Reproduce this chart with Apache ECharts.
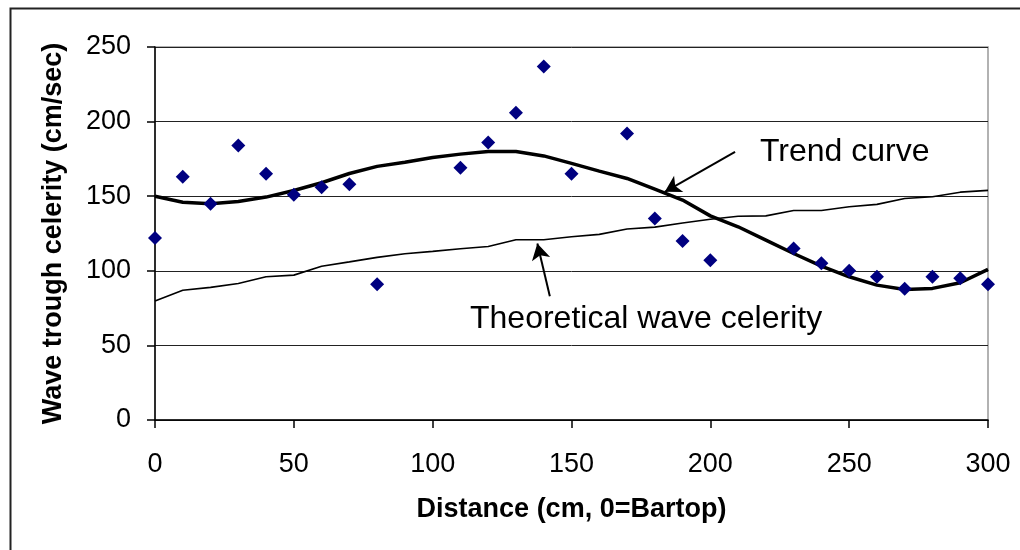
<!DOCTYPE html>
<html>
<head>
<meta charset="utf-8">
<script src="https://cdn.jsdelivr.net/npm/echarts@6/dist/echarts.min.js"></script>
<style>html,body{margin:0;padding:0;background:#fff}#c{width:1020px;height:550px}</style>
</head>
<body>
<div id="c"></div>
<script>
// Observed wave trough celerity (scatter)
const obsDistance = [0,10,20,30,40,50,60,70,80,110,120,130,140,150,170,180,190,200,230,240,250,260,270,280,290,300];
const obsCelerity = [122,163,145,184,165,151,156,158,91,169,186,206,237,165,192,135,120,107,115,105,100,96,88,96,95,91];
// Curves sampled every 10 cm
const curveDistance = [0,10,20,30,40,50,60,70,80,90,100,110,120,130,140,150,160,170,180,190,200,210,220,230,240,250,260,270,280,290,300];
const trendCurve = [150,146,145,146.5,149.4,153.8,159,165.2,170,172.8,176,178.2,180,180,177,172,166.8,161.9,154.7,147.4,136.8,129.5,120.6,111.6,103.1,96,90.4,87.5,88.2,92,101];
const theoryCurve = [79.7,87,88.9,91.5,96,97.1,103.1,106,109,111.4,113,114.8,116.3,120.8,120.8,122.8,124.4,128,129.3,132,134.6,136.6,136.8,140.4,140.4,142.9,144.5,148.5,149.6,152.7,153.9];
// Tick values
const xTicks = [0,50,100,150,200,250,300];
const yTicks = [0,50,100,150,200,250];
// Annotations
const trendLabel = 'Trend curve';
const theoryLabel = 'Theoretical wave celerity';
const trendArrow = [[208.9,179.7],[183.6,152.9]];
const theoryArrow = [[142.2,83],[137.7,118.3]];

const FONT = '"Liberation Sans", Arial, sans-serif';
const chart = echarts.init(document.getElementById('c'), null, {renderer:'canvas'});

function pairs(xs, ys){ return xs.map((x,i)=>[x, ys[i]]); }

const option = {
  backgroundColor: '#fff',
  animation: false,
  grid: {left:155, right:32, top:47, bottom:130, show:true, borderColor:'#999', borderWidth:1.5, backgroundColor:'transparent'},
  xAxis: {
    type:'value', min:xTicks[0], max:xTicks[xTicks.length-1], interval:50,
    name:'Distance (cm, 0=Bartop)', nameLocation:'middle', nameGap:76,
    nameTextStyle:{fontFamily:FONT, fontSize:27, fontWeight:'bold', color:'#000'},
    axisLine:{show:true, onZero:false, lineStyle:{color:'#000', width:1.5}},
    axisTick:{show:true, length:8, lineStyle:{color:'#000', width:1.5}},
    axisLabel:{fontFamily:FONT, fontSize:27, color:'#000', margin:31},
    splitLine:{show:false}
  },
  yAxis: {
    type:'value', min:yTicks[0], max:yTicks[yTicks.length-1], interval:50,
    name:'Wave trough celerity (cm/sec)', nameLocation:'middle', nameGap:88,
    nameTextStyle:{fontFamily:FONT, fontSize:27, fontWeight:'bold', color:'#000'},
    axisLine:{show:true, onZero:false, lineStyle:{color:'#000', width:1.5}},
    axisTick:{show:true, length:8, lineStyle:{color:'#000', width:1.5}},
    axisLabel:{fontFamily:FONT, fontSize:27, color:'#000', margin:24},
    splitLine:{show:true, lineStyle:{color:'#222', width:1}}
  },
  graphic: [
    {type:'rect', left:8, top:6, z:-10, silent:true, shape:{x:0,y:0,width:1100,height:700}, style:{fill:'none', stroke:'#222', lineWidth:2}},
    {type:'text', x:760, y:152, z:10, style:{text:trendLabel, font:'32px '+FONT, fill:'#000', verticalAlign:'middle', align:'left'}},
    {type:'text', x:470, y:319, z:10, style:{text:theoryLabel, font:'32px '+FONT, fill:'#000', verticalAlign:'middle', align:'left'}}
  ],
  series: [
    {
      type:'line', name:'Theoretical', data:pairs(curveDistance, theoryCurve),
      showSymbol:false, symbol:'none', lineStyle:{color:'#000', width:1.6}, z:3,
      markLine:{silent:true, symbol:['none','arrow'], symbolSize:[14,16],
        lineStyle:{color:'#000', width:2, type:'solid'}, label:{show:false},
        data:[[{coord:theoryArrow[0]},{coord:theoryArrow[1]}],[{coord:trendArrow[0]},{coord:trendArrow[1]}]]}
    },
    {
      type:'line', name:'Trend', data:pairs(curveDistance, trendCurve),
      showSymbol:false, symbol:'none', lineStyle:{color:'#000', width:3.5}, z:4
    },
    {
      type:'scatter', name:'Observed', data:pairs(obsDistance, obsCelerity),
      symbol:'diamond', symbolSize:14, itemStyle:{color:'#000080', opacity:1}, z:5
    }
  ]
};
chart.setOption(option);
</script>
</body>
</html>
